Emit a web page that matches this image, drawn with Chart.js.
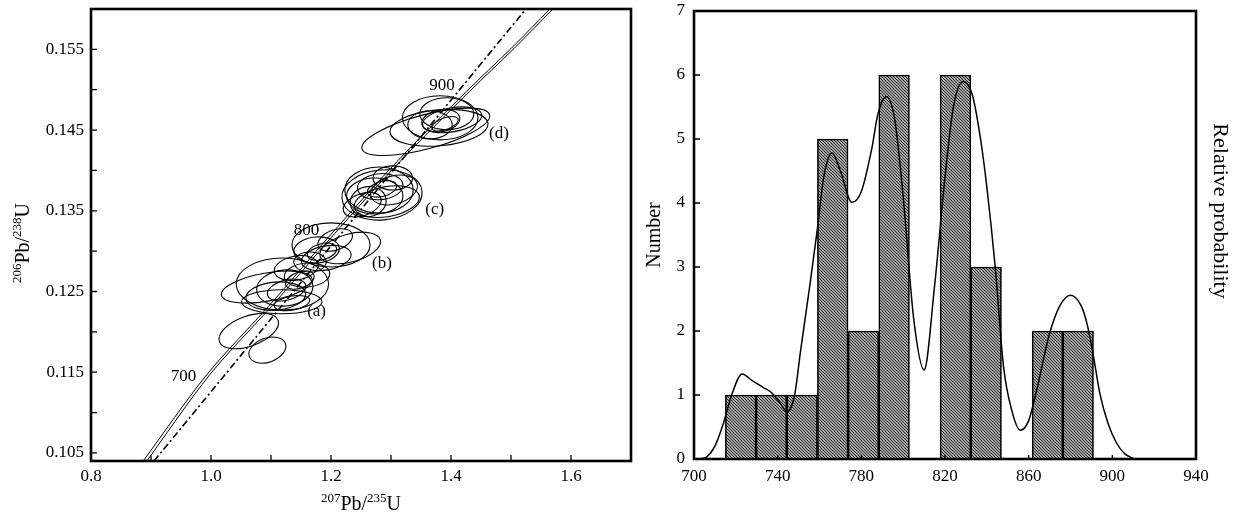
<!DOCTYPE html>
<html lang="en">
<head>
<meta charset="UTF-8">
<title>U-Pb concordia and age histogram</title>
<script src="https://cdn.jsdelivr.net/npm/chart.js"></script>
<style>
  body { margin: 0; background: #fff; }
  #left { position: absolute; left: 0; top: 0; width: 640px; height: 522px; }
  #right { position: absolute; left: 640px; top: 0; width: 601px; height: 522px; }
</style>
</head>
<body>
<div id="left"><canvas id="concordia"></canvas></div>
<div id="right"><canvas id="hist"></canvas></div>

<script>
// ---- left panel: concordia diagram ----
const leftXTicks = [0.8, 0.9, 1.0, 1.1, 1.2, 1.3, 1.4, 1.5, 1.6, 1.7];
const leftXLabels = ['0.8', '1.0', '1.2', '1.4', '1.6'];
const leftYTicks = [0.105, 0.11, 0.115, 0.12, 0.125, 0.13, 0.135, 0.14, 0.145, 0.15, 0.155];
const leftYLabels = ['0.105', '0.115', '0.125', '0.135', '0.145', '0.155'];
// axis titles with superscripts: [text, isSuperscript]
const leftXTitle = [['207', true], ['Pb/', false], ['235', true], ['U', false]];
const leftYTitle = [['206', true], ['Pb/', false], ['238', true], ['U', false]];

// concordia band (two thin lines) and the dash-dot line
const concY  = [0.104, 0.1147, 0.1235, 0.1320, 0.1411, 0.1498, 0.1551, 0.1600];
const concXa = [0.887, 0.993, 1.100, 1.199, 1.310, 1.426, 1.500, 1.565];
const concXb = [0.893, 0.998, 1.105, 1.204, 1.315, 1.431, 1.505, 1.570];
const discX = [0.905, 1.525];
const discY = [0.104, 0.160];

// error ellipses: centre, half widths, tilt (deg)
const ellX  = [1.358, 1.382, 1.380, 1.393, 1.383, 1.390, 1.402, 1.365,
               1.285, 1.280, 1.293, 1.282, 1.285, 1.262, 1.303, 1.252, 1.273, 1.305,
               1.200, 1.232, 1.176, 1.185, 1.207, 1.165, 1.192,
               1.119, 1.093, 1.118, 1.123, 1.126, 1.160, 1.135, 1.148, 1.108, 1.142,
               1.063, 1.094];
const ellY  = [0.14478, 0.14652, 0.14528, 0.14702, 0.14615, 0.14578, 0.14627, 0.14565,
               0.13696, 0.13758, 0.13613, 0.13799, 0.13771, 0.13613, 0.13907, 0.13575, 0.13684, 0.13758,
               0.13077, 0.13039, 0.13014, 0.12993, 0.13138, 0.12865, 0.12915,
               0.12592, 0.12555, 0.12373, 0.12543, 0.12518, 0.12704, 0.12357, 0.12642, 0.12443, 0.12791,
               0.12010, 0.11774];
const ellSx = [0.110, 0.063, 0.082, 0.045, 0.032, 0.023, 0.050, 0.037,
               0.067, 0.057, 0.055, 0.038, 0.025, 0.030, 0.033, 0.033, 0.047, 0.040,
               0.065, 0.052, 0.038, 0.025, 0.030, 0.027, 0.042,
               0.077, 0.077, 0.067, 0.047, 0.033, 0.038, 0.030, 0.025, 0.050, 0.037,
               0.052, 0.032];
const ellSy = [0.00211, 0.00273, 0.00223, 0.00198, 0.00136, 0.00074, 0.00149, 0.00174,
               0.00310, 0.00285, 0.00186, 0.00161, 0.00093, 0.00186, 0.00149, 0.00136, 0.00223, 0.00174,
               0.00273, 0.00174, 0.00161, 0.00100, 0.00124, 0.00124, 0.00149,
               0.00323, 0.00174, 0.00149, 0.00223, 0.00124, 0.00149, 0.00087, 0.00100, 0.00174, 0.00149,
               0.00186, 0.00149];
const ellRot = [-15, 0, -5, 0, -10, -20, -10, 0,
                -5, 0, -10, -5, -15, -10, 0, -20, 0, -15,
                0, -15, -5, -15, -20, 0, -10,
                0, -10, 0, -5, -15, -5, -10, -20, -5, -10,
                -20, -20];

const ageText = ['700', '800', '900'];
const ageTextX = [0.954, 1.159, 1.385];
const ageTextY = [0.1145, 0.1326, 0.1505];
const groupText = ['(a)', '(b)', '(c)', '(d)'];
const groupTextX = [1.176, 1.285, 1.373, 1.480];
const groupTextY = [0.1225, 0.1285, 0.1351, 0.1446];

// ---- right panel: histogram + probability curve ----
const binCenters = [722.33, 737, 751.67, 766.33, 781, 795.67, 810.33, 825, 839.67, 854.33, 869, 883.67];
const binCounts = [1, 1, 1, 5, 2, 6, 0, 6, 3, 0, 2, 2];
const probAge = [703, 706, 710, 714, 718, 723, 728, 733, 737, 741, 744.5, 748, 751, 755.5, 759, 762, 766,
                 770, 775.5, 780, 785, 788, 792, 796, 800, 805, 810, 815, 820, 824, 828.7, 833, 837,
                 840, 844, 848, 852, 856, 860, 864, 870, 875, 880, 885, 888, 891, 894, 898, 902, 906, 910];
const probVal = [0, 0.03, 0.2, 0.55, 1.0, 1.33, 1.22, 1.12, 1.04, 0.88, 0.74, 0.98, 1.7, 2.74, 3.6, 4.4, 4.78,
                 4.5, 4.01, 4.18, 4.85, 5.4, 5.66, 5.3, 4.1, 2.2, 1.39, 2.7, 4.4, 5.5, 5.9, 5.7, 5.0,
                 4.25, 3.0, 1.44, 0.75, 0.45, 0.6, 1.1, 1.96, 2.4, 2.56, 2.4, 2.1, 1.6, 1.03, 0.55, 0.25, 0.08, 0.01];
const rightXTicks = [700, 740, 780, 820, 860, 900, 940];
const rightYTicks = [0, 1, 2, 3, 4, 5, 6, 7];

const serif = '"Liberation Serif", "Times New Roman", serif';
const tickFont = { family: serif, size: 17 };

// frame + inward tick marks
const framePlugin = {
  id: 'frame',
  afterDraw(chart, args, opts) {
    const { ctx, chartArea: a } = chart;
    const x = chart.scales.x, y = chart.scales.y;
    ctx.save();
    ctx.strokeStyle = '#000';
    ctx.lineWidth = 1.3;
    ctx.beginPath();
    x.ticks.forEach(t => {
      const px = x.getPixelForValue(t.value);
      ctx.moveTo(px, a.bottom); ctx.lineTo(px, a.bottom - opts.xLen);
    });
    y.ticks.forEach(t => {
      const py = y.getPixelForValue(t.value);
      ctx.moveTo(a.left, py); ctx.lineTo(a.left + opts.yLen, py);
    });
    ctx.stroke();
    ctx.lineWidth = 2.6;
    ctx.strokeRect(a.left, a.top, a.right - a.left, a.bottom - a.top);
    ctx.restore();
  }
};

// text made of normal and raised small parts, centred on (cx, cy)
function drawRich(ctx, parts, cx, cy, rot) {
  const big = '20px ' + serif, small = '13px ' + serif;
  let w = 0;
  parts.forEach(p => { ctx.font = p[1] ? small : big; w += ctx.measureText(p[0]).width; });
  ctx.save();
  ctx.translate(cx, cy);
  ctx.rotate(rot);
  ctx.fillStyle = '#000';
  ctx.textAlign = 'left';
  ctx.textBaseline = 'alphabetic';
  let x = -w / 2;
  parts.forEach(p => {
    ctx.font = p[1] ? small : big;
    ctx.fillText(p[0], x, p[1] ? -1 : 7);
    x += ctx.measureText(p[0]).width;
  });
  ctx.restore();
}

const ellipsePlugin = {
  id: 'ellipses',
  afterDatasetsDraw(chart) {
    const { ctx, chartArea: a } = chart;
    const x = chart.scales.x, y = chart.scales.y;
    ctx.save();
    ctx.beginPath();
    ctx.rect(a.left, a.top, a.right - a.left, a.bottom - a.top);
    ctx.clip();
    ctx.strokeStyle = '#000';
    ctx.lineWidth = 1.1;
    ellX.forEach((cx, i) => {
      const px = x.getPixelForValue(cx);
      const py = y.getPixelForValue(ellY[i]);
      const rx = Math.abs(x.getPixelForValue(cx + ellSx[i]) - px);
      const ry = Math.abs(y.getPixelForValue(ellY[i] + ellSy[i]) - py);
      ctx.beginPath();
      ctx.ellipse(px, py, rx, ry, ellRot[i] * Math.PI / 180, 0, 2 * Math.PI);
      ctx.stroke();
    });
    // age and group labels
    ctx.fillStyle = '#000';
    ctx.font = '17px ' + serif;
    ctx.textAlign = 'center';
    ctx.textBaseline = 'middle';
    ageText.forEach((s, i) => ctx.fillText(s, x.getPixelForValue(ageTextX[i]), y.getPixelForValue(ageTextY[i])));
    groupText.forEach((s, i) => ctx.fillText(s, x.getPixelForValue(groupTextX[i]), y.getPixelForValue(groupTextY[i])));
    ctx.restore();
  },
  afterDraw(chart) {
    const { ctx, chartArea: a } = chart;
    drawRich(ctx, leftXTitle, (a.left + a.right) / 2, chart.height - 19, 0);
    drawRich(ctx, leftYTitle, 22, 243, -Math.PI / 2);
  }
};

// fix axis box sizes so the plot areas sit where they do in the figure
const fixV = w => s => { s.width = w; s.paddingTop = 0; s.paddingBottom = 0; };
const fixH = h => s => { s.height = h; s.paddingLeft = 0; s.paddingRight = 0; };

const toPts = (xs, ys) => xs.map((v, i) => ({ x: v, y: ys[i] }));

new Chart(document.getElementById('concordia'), {
  type: 'scatter',
  data: {
    datasets: [
      { data: toPts(concXa, concY), showLine: true, borderColor: '#000', borderWidth: 1, pointRadius: 0, tension: 0.3 },
      { data: toPts(concXb, concY), showLine: true, borderColor: '#000', borderWidth: 1, pointRadius: 0, tension: 0.3 },
      { data: toPts(discX, discY), showLine: true, borderColor: '#000', borderWidth: 1.6, pointRadius: 0, borderDash: [7, 3, 2, 3] }
    ]
  },
  options: {
    responsive: true,
    maintainAspectRatio: false,
    animation: false,
    layout: { padding: { top: 9, right: 9, left: 0, bottom: 0 } },
    plugins: { legend: { display: false }, tooltip: { enabled: false }, frame: { xLen: 6, yLen: 6 } },
    scales: {
      x: {
        type: 'linear', min: 0.8, max: 1.7,
        afterBuildTicks: s => { s.ticks = leftXTicks.map(v => ({ value: v })); },
        afterFit: fixH(61),
        grid: { display: false, drawTicks: false },
        border: { display: false },
        ticks: {
          font: tickFont, color: '#000', padding: 5, autoSkip: false, maxRotation: 0,
          callback: v => leftXLabels.includes(v.toFixed(1)) ? v.toFixed(1) : ''
        }
      },
      y: {
        type: 'linear', min: 0.104, max: 0.16,
        afterBuildTicks: s => { s.ticks = leftYTicks.map(v => ({ value: v })); },
        afterFit: fixV(91),
        grid: { display: false, drawTicks: false },
        border: { display: false },
        ticks: {
          font: tickFont, color: '#000', padding: 7, autoSkip: false,
          callback: v => leftYLabels.includes(v.toFixed(3)) ? v.toFixed(3) : ''
        }
      }
    }
  },
  plugins: [ellipsePlugin, framePlugin]
});

// hatched fill for the bars
const histCanvas = document.getElementById('hist');
function hatchPattern() {
  const c = document.createElement('canvas');
  c.width = 3; c.height = 3;
  const g = c.getContext('2d');
  g.fillStyle = '#a6a6a6';
  g.fillRect(0, 0, 3, 3);
  g.fillStyle = '#2e2e2e';
  g.fillRect(0, 0, 1, 1);
  g.fillRect(1, 1, 1, 1);
  g.fillRect(2, 2, 1, 1);
  return histCanvas.getContext('2d').createPattern(c, 'repeat');
}

const relProbTitle = {
  id: 'relProbTitle',
  afterDraw(chart) {
    const { ctx } = chart;
    ctx.save();
    ctx.translate(580, 211);
    ctx.rotate(Math.PI / 2);
    ctx.font = '22px ' + serif;
    ctx.fillStyle = '#000';
    ctx.textAlign = 'center';
    ctx.textBaseline = 'middle';
    ctx.fillText('Relative probability', 0, 0);
    ctx.restore();
  }
};

new Chart(histCanvas, {
  type: 'bar',
  data: {
    datasets: [
      {
        type: 'line', label: 'Relative probability', yAxisID: 'y2', order: 0,
        data: toPts(probAge, probVal),
        borderColor: '#000', borderWidth: 1.5, pointRadius: 0, cubicInterpolationMode: 'monotone', fill: false
      },
      {
        type: 'bar', label: 'Number', yAxisID: 'y', order: 1,
        data: toPts(binCenters, binCounts),
        backgroundColor: hatchPattern(), borderColor: '#000', borderWidth: 1.6,
        barPercentage: 1, categoryPercentage: 1
      }
    ]
  },
  options: {
    responsive: true,
    maintainAspectRatio: false,
    animation: false,
    layout: { padding: { top: 11, right: 0, left: 0, bottom: 0 } },
    plugins: { legend: { display: false }, tooltip: { enabled: false }, frame: { xLen: 4, yLen: 6 } },
    scales: {
      x: {
        type: 'linear', min: 700, max: 940, offset: false,
        afterBuildTicks: s => { s.ticks = rightXTicks.map(v => ({ value: v })); },
        afterFit: fixH(63),
        grid: { display: false, drawTicks: false },
        border: { display: false },
        ticks: { font: tickFont, color: '#000', padding: 7, autoSkip: false, maxRotation: 0 }
      },
      y: {
        type: 'linear', position: 'left', min: 0, max: 7,
        afterBuildTicks: s => { s.ticks = rightYTicks.map(v => ({ value: v })); },
        afterFit: fixV(54),
        grid: { display: false, drawTicks: false },
        border: { display: false },
        ticks: { font: tickFont, color: '#000', padding: 9 },
        title: { display: true, text: 'Number', font: { family: serif, size: 20 }, color: '#000', padding: { top: 3, bottom: 0 } }
      },
      y2: {
        type: 'linear', position: 'right', min: 0, max: 7,
        afterFit: fixV(45),
        grid: { display: false, drawTicks: false },
        border: { display: false },
        ticks: { display: false }
      }
    }
  },
  plugins: [framePlugin, relProbTitle]
});
</script>
</body>
</html>
